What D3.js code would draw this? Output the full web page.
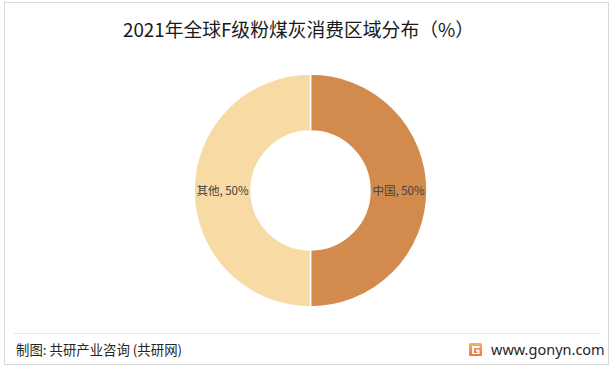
<!DOCTYPE html>
<html><head><meta charset="utf-8">
<script src="https://cdn.jsdelivr.net/npm/d3@7"></script>
<style>
html,body{margin:0;padding:0;background:#fff;}
svg{display:block;}
</style></head>
<body>
<svg id="chart" width="613" height="368"></svg>
<script>
const categories = ["中国", "其他"];
const values = [50, 50];
const colors = ["#D38B4D", "#F8DAA5"];
const title = "2021年全球F级粉煤灰消费区域分布（%）";
const source = "制图: 共研产业咨询 (共研网)";
const site = "www.gonyn.com";

const svg = d3.select("#chart");
const font = "'Noto Sans CJK SC','Noto Sans',sans-serif";

// frame
svg.append("rect").attr("x", 4.5).attr("y", 2.5).attr("width", 604).attr("height", 362)
  .attr("fill", "#fff").attr("stroke", "#d9d9d9").attr("stroke-width", 1);
svg.append("line").attr("x1", 14).attr("x2", 600).attr("y1", 333.5).attr("y2", 333.5)
  .attr("stroke", "#e6e6e6").attr("stroke-width", 1);

// title
svg.append("text").attr("x", 298.5).attr("y", 37).attr("text-anchor", "middle")
  .attr("font-family", font).attr("font-size", 18.8).attr("fill", "#1a1a1a").text(title);

// donut
const cx = 310.5, cy = 190.5, rOuter = 116.5, rInner = 59.5;
const pie = d3.pie().sort(null).value(d => d.v);
const arcs = pie(categories.map((c, i) => ({c, v: values[i], col: colors[i]})));
const arc = d3.arc().innerRadius(rInner).outerRadius(rOuter);
const g = svg.append("g").attr("transform", `translate(${cx},${cy})`);
g.selectAll("path").data(arcs).join("path")
  .attr("d", arc).attr("fill", d => d.data.col)
  .attr("stroke", "#fff").attr("stroke-width", 1.5);

const labelArc = d3.arc().innerRadius((rInner + rOuter) / 2).outerRadius((rInner + rOuter) / 2);
g.selectAll("text.lbl").data(arcs).join("text").attr("class", "lbl")
  .attr("transform", d => { const [x, y] = labelArc.centroid(d); return `translate(${x},${y})`; })
  .attr("text-anchor", "middle").attr("dy", "0.35em")
  .attr("font-family", font).attr("font-size", 11.5).attr("fill", "#404040")
  .text(d => `${d.data.c}, ${d.data.v}%`);

// footer
svg.append("text").attr("x", 16).attr("y", 355)
  .attr("font-family", font).attr("font-size", 13.4).attr("fill", "#262626").text(source);

const grad = svg.append("defs").append("linearGradient").attr("id", "lg")
  .attr("x1", 0).attr("y1", 0).attr("x2", 0).attr("y2", 1);
grad.append("stop").attr("offset", "0%").attr("stop-color", "#f9b26a");
grad.append("stop").attr("offset", "100%").attr("stop-color", "#f2703c");
const logo = svg.append("g").attr("transform", "translate(469,343)");
logo.append("rect").attr("x", 0).attr("y", 0).attr("width", 13).attr("height", 13).attr("rx", 1.5).attr("fill", "url(#lg)");
logo.append("path").attr("d", "M3,3 H10.5 V5 H5 V10 H8.5 V8.5 H7 V6.8 H10.5 V11 H3 Z").attr("fill", "#fff");

svg.append("text").attr("x", 491).attr("y", 355)
  .attr("font-family", "'Noto Sans',sans-serif").attr("font-size", 14.5).attr("fill", "#262626").text(site);
</script>
</body></html>
